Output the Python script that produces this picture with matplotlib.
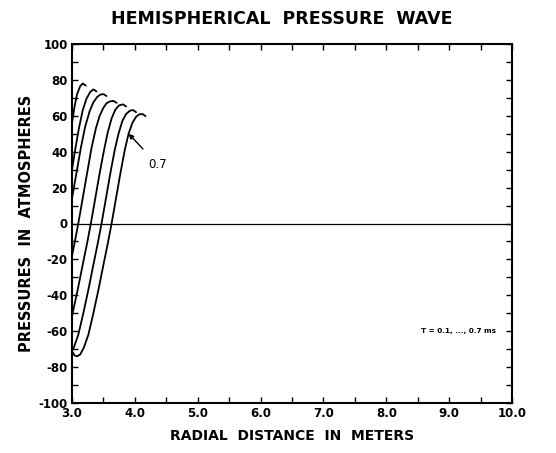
import matplotlib
matplotlib.use("Agg")
import matplotlib.pyplot as plt
from matplotlib.ticker import MultipleLocator

plt.rcParams['font.family'] = ['DejaVu Sans']

# ---- data ----
times_ms = [0.1, 0.2, 0.3, 0.4, 0.5, 0.6, 0.7]

x_t1 = [3.00, 3.04, 3.08, 3.13, 3.17, 3.22]
y_t1 = [56, 65, 72, 76.5, 78, 76.8]

x_t2 = [3.00, 3.05, 3.11, 3.17, 3.23, 3.29, 3.34, 3.39]
y_t2 = [30, 41, 53, 63, 69.5, 73.3, 74.7, 73.6]

x_t3 = [3.00, 3.07, 3.14, 3.21, 3.28, 3.34, 3.40, 3.45, 3.50, 3.55]
y_t3 = [14, 28, 42, 54, 62.5, 67.5, 70.5, 71.8, 72.1, 71]

x_t4 = [3.00, 3.04, 3.10, 3.17, 3.24, 3.31, 3.38, 3.44, 3.50, 3.55, 3.60, 3.66, 3.71]
y_t4 = [-18, -11, 0, 14, 28, 42, 53, 60, 64.5, 67, 68, 68.3, 67.2]

x_t5 = [3.00, 3.09, 3.17, 3.24, 3.30, 3.37, 3.44, 3.51, 3.57, 3.63, 3.69, 3.75, 3.81, 3.86]
y_t5 = [-51.5, -37, -23, -11, 0, 14, 28, 41, 51, 58.5, 63.5, 65.8, 66.4, 65.2]

x_t6 = [3.00, 3.03, 3.10, 3.18, 3.26, 3.34, 3.41, 3.47, 3.54, 3.61, 3.68, 3.74, 3.80,
        3.86, 3.92, 3.97, 4.02]
y_t6 = [-70.5, -69, -62, -50, -37, -23, -11, 0, 14, 28, 41, 50, 57, 61, 62.8, 63.2, 62]

x_t7 = [3.00, 3.04, 3.08, 3.13, 3.19, 3.26, 3.34, 3.42, 3.50, 3.57, 3.63, 3.70, 3.77, 3.84,
        3.90, 3.96, 4.02, 4.07, 4.12, 4.17]
y_t7 = [-71, -73.5, -74, -73, -69, -62, -50, -37, -23, -11, 0, 14, 28, 41, 50, 56, 59.5,
        60.8, 61, 59.8]

x_ticklabels = ["3.0", "4.0", "5.0", "6.0", "7.0", "8.0", "9.0", "10.0"]
y_ticklabels = ["-100", "-80", "-60", "-40", "-20", "0", "20", "40", "60", "80", "100"]

curves = [(x_t1, y_t1), (x_t2, y_t2), (x_t3, y_t3), (x_t4, y_t4),
          (x_t5, y_t5), (x_t6, y_t6), (x_t7, y_t7)]

# ---- figure ----
fig = plt.figure(figsize=(5.56, 4.53), dpi=100)
ax = fig.add_axes([72/556, 1-403/453, 440/556, 359/453])

for xs, ys in curves:
    ax.plot(xs, ys, color='black', lw=1.3, solid_joinstyle='round', solid_capstyle='round')

ax.axhline(0, color='black', lw=0.9)

ax.set_xlim(3.0, 10.0)
ax.set_ylim(-100, 100)

ax.set_xticks([3, 4, 5, 6, 7, 8, 9, 10])
ax.set_xticklabels(x_ticklabels)
ax.xaxis.set_minor_locator(MultipleLocator(0.5))
ax.set_yticks(list(range(-100, 101, 20)))
ax.set_yticklabels(y_ticklabels)
ax.yaxis.set_minor_locator(MultipleLocator(10))

ax.tick_params(which='both', direction='in', top=True, right=True, length=4, width=1.0)
ax.tick_params(axis='both', which='major', labelsize=8.5, pad=3)
for lab in ax.get_xticklabels() + ax.get_yticklabels():
    lab.set_fontweight('bold')

for sp in ax.spines.values():
    sp.set_linewidth(1.5)

ax.set_xlabel("RADIAL  DISTANCE  IN  METERS", fontsize=10, fontweight='bold', labelpad=6)
ax.set_ylabel("PRESSURES  IN  ATMOSPHERES", fontsize=10.5, fontweight='bold', labelpad=3)
fig.text(0.507, 1-19/453, "HEMISPHERICAL  PRESSURE  WAVE", ha='center', va='center',
         fontsize=12.5, fontweight='bold')

ax.annotate("0.7", xy=(3.90, 50), xytext=(4.36, 33), fontsize=8.5, fontweight='normal',
            ha='center', va='center',
            arrowprops=dict(arrowstyle='-|>', color='black', lw=1.0, mutation_scale=7,
                            shrinkA=6, shrinkB=0))

ax.text(8.55, -60, "T = 0.1, ..., 0.7 ms", fontsize=5.2, fontweight='bold', ha='left', va='center')

fig.savefig("out.png", dpi=100)
